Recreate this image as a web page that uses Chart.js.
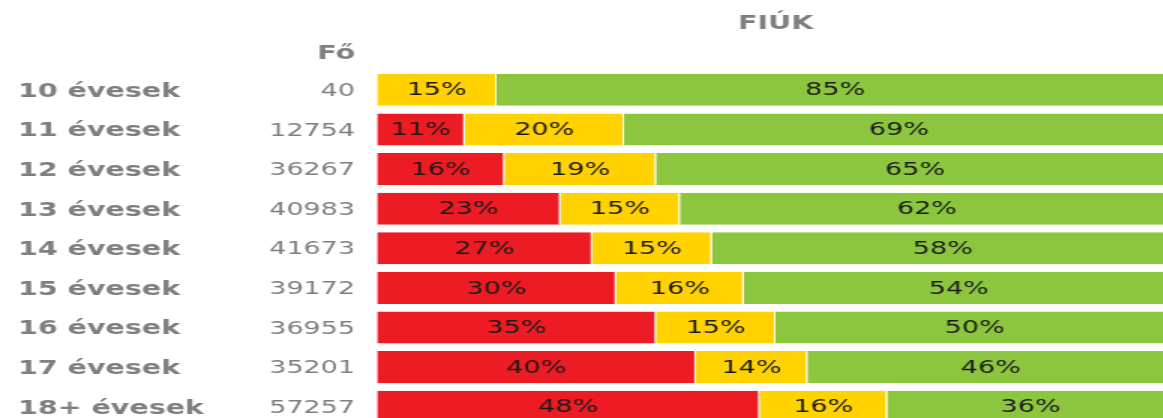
<!DOCTYPE html>
<html>
<head>
<meta charset="utf-8">
<script src="https://cdn.jsdelivr.net/npm/chart.js@4/dist/chart.umd.min.js"></script>
<style>
  html, body { margin: 0; padding: 0; background: #fff; overflow: hidden; width: 1163px; height: 418px; }
  #wrap { width: 790px; height: 440px; transform: scaleX(1.5); transform-origin: 0 0; }
  canvas { display: block; }
</style>
</head>
<body>
<div id="wrap"><canvas id="c" width="790" height="440"></canvas></div>
<script>
const categories = ['10 évesek', '11 évesek', '12 évesek', '13 évesek', '14 évesek', '15 évesek', '16 évesek', '17 évesek', '18+ évesek'];
const counts = [40, 12754, 36267, 40983, 41673, 39172, 36955, 35201, 57257];
const redValues = [0, 11, 16, 23, 27, 30, 35, 40, 48];
const yellowValues = [15, 20, 19, 15, 15, 16, 15, 14, 16];
const greenValues = [85, 69, 65, 62, 58, 54, 50, 46, 36];
const titleText = 'FIÚK';
const countHeader = 'Fő';

const GRAY = '#7f7f7f';
const FONT = "'DejaVu Sans', Verdana, sans-serif";

const extras = {
  id: 'extras',
  afterDatasetsDraw(chart) {
    const ctx = chart.ctx;
    const ca = chart.chartArea;
    const yScale = chart.scales.y;
    ctx.save();
    // segment percentage labels
    ctx.font = '18px ' + FONT;
    ctx.fillStyle = '#1a1a1a';
    ctx.textAlign = 'center';
    ctx.textBaseline = 'middle';
    chart.data.datasets.forEach((ds, i) => {
      const meta = chart.getDatasetMeta(i);
      meta.data.forEach((el, j) => {
        const v = ds.data[j];
        if (v > 0) {
          const p = el.getCenterPoint();
          ctx.fillText(v + '%', p.x, p.y + 1);
        }
      });
    });
    // counts column
    ctx.font = '18px ' + FONT;
    ctx.fillStyle = GRAY;
    ctx.textAlign = 'right';
    const countX = 236.7;
    counts.forEach((n, j) => {
      ctx.fillText(String(n), countX, yScale.getPixelForValue(j) + 1.5);
    });
    // count header
    ctx.font = 'bold 19px ' + FONT;
    ctx.fillText(countHeader, countX, 54);
    // title
    ctx.textAlign = 'center';
    ctx.fillText(titleText, (ca.left + ca.right) / 2, 24);
    ctx.restore();
  }
};

new Chart(document.getElementById('c'), {
  type: 'bar',
  data: {
    labels: categories,
    datasets: [
      { label: 'red', data: redValues, backgroundColor: '#ed1c24' },
      { label: 'yellow', data: yellowValues, backgroundColor: '#ffd200' },
      { label: 'green', data: greenValues, backgroundColor: '#8cc63f' }
    ]
  },
  options: {
    indexAxis: 'y',
    responsive: false,
    animation: false,
    events: [],
    layout: { padding: { left: 12, top: 70, right: 7.3, bottom: 13.4 } },
    datasets: {
      bar: {
        categoryPercentage: 1,
        barPercentage: 0.81,
        borderColor: '#ffffff',
        borderWidth: { right: 1, left: 0, top: 0, bottom: 0 },
        borderSkipped: false
      }
    },
    scales: {
      x: { stacked: true, min: 0, max: 100, display: false },
      y: {
        stacked: true,
        grid: { display: false },
        border: { display: false },
        ticks: {
          color: GRAY,
          font: { family: FONT, size: 19, weight: 'bold' },
          crossAlign: 'far',
          padding: 0,
          labelOffset: 2
        },
        afterFit(scale) { scale.width = 239.3; }
      }
    },
    plugins: {
      legend: { display: false },
      title: { display: false },
      tooltip: { enabled: false }
    }
  },
  plugins: [extras]
});
</script>
</body>
</html>
